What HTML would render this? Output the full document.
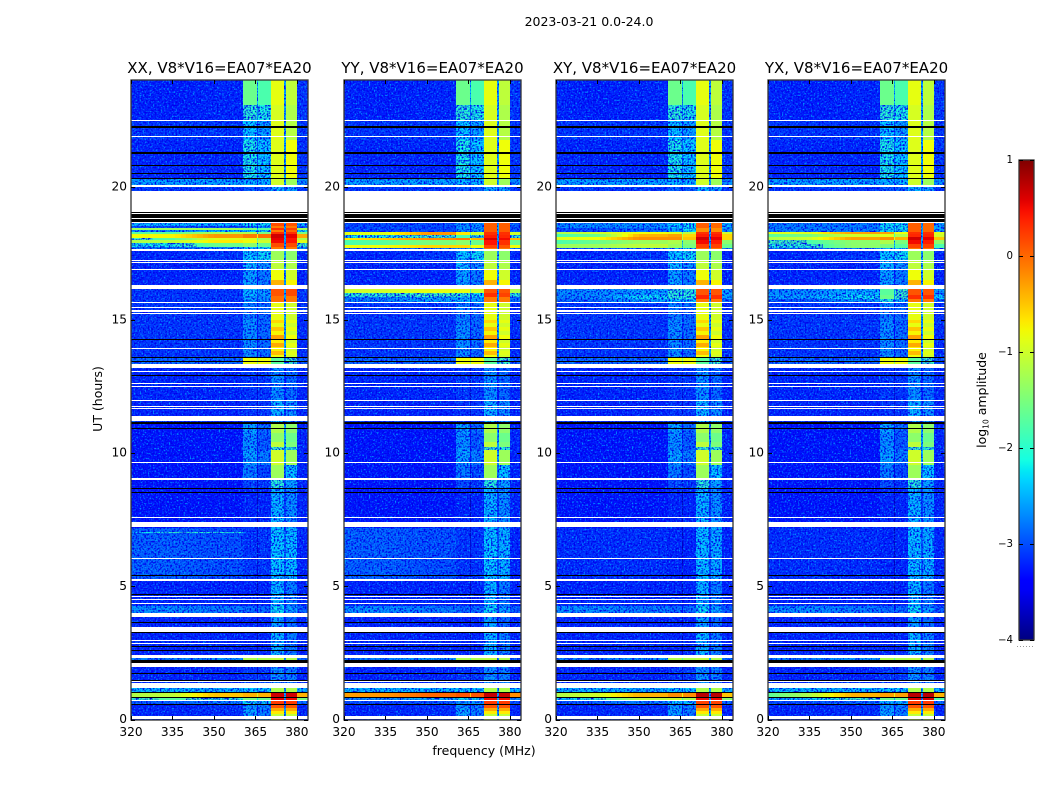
<!DOCTYPE html>
<html>
<head>
<meta charset="utf-8">
<title>2023-03-21 0.0-24.0</title>
<style>
html,body{margin:0;padding:0;background:#fff;}
svg{display:block;}
text{font-family:"DejaVu Sans","Liberation Sans",sans-serif;fill:#000;}
</style>
</head>
<body>
<svg id="chart" xmlns="http://www.w3.org/2000/svg" width="1050" height="800" viewBox="0 0 1050 800">
  <defs>
    <filter id="speckle-light" x="0" y="0" width="100%" height="100%" color-interpolation-filters="sRGB">
      <feTurbulence type="fractalNoise" baseFrequency="0.62" numOctaves="1" seed="4"/>
      <feColorMatrix type="matrix" values="0 0 0 0 0  0 0 0 0 0.6  0 0 0 0 1  4 0 0 0 -2.0"/>
    </filter>
    <filter id="speckle-dark" x="0" y="0" width="100%" height="100%" color-interpolation-filters="sRGB">
      <feTurbulence type="fractalNoise" baseFrequency="0.58" numOctaves="1" seed="11"/>
      <feColorMatrix type="matrix" values="0 0 0 0 0  0 0 0 0 0  0 0 0 0 0.92  0 4 0 0 -1.8"/>
    </filter>
    <linearGradient id="jet-gradient" x1="0" y1="1" x2="0" y2="0"></linearGradient>
  </defs>
  <text x="589" y="26" font-size="12.5" text-anchor="middle">2023-03-21 0.0-24.0</text>
  <text transform="translate(102,399) rotate(-90)" font-size="12.5" text-anchor="middle">UT (hours)</text>
  <text x="484" y="755" font-size="12.5" text-anchor="middle">frequency (MHz)</text>
  <text transform="translate(986,400) rotate(-90)" font-size="12.5" text-anchor="middle">log<tspan font-size="7.5" dy="2.5">10</tspan><tspan dy="-2.5"> amplitude</tspan></text>
</svg>
<script>
const panelTitles = ['XX, V8*V16=EA07*EA20', 'YY, V8*V16=EA07*EA20', 'XY, V8*V16=EA07*EA20', 'YX, V8*V16=EA07*EA20'];
const freqTicks = [320, 335, 350, 365, 380];
const utTicks = [0, 5, 10, 15, 20];
const colorbarTicks = [1, 0, -1, -2, -3, -4];

const freqDomain = [320, 384];
const colorDomain = [-4, 1];
const rfiBandA = [360.6, 365.4];
const rfiBandB = [366, 370.7];
const rfiBandC = [370.7, 375.4];
const rfiBandD = [375.9, 380.2];

// Flagged time ranges, UT hours [low, high]
const flaggedWhite = [
 [22.46,22.51],[21.86,21.91],[20.01,20.07],[19.04,19.83],[19.0,19.03],[18.78,18.82],[18.64,18.68],
 [17.65,17.68],[17.59,17.62],[17.22,17.25],[17.14,17.18],[16.89,16.92],[16.18,16.32],[15.63,15.67],
 [15.44,15.48],[15.32,15.38],[15.25,15.28],[13.92,13.95],[13.20,13.36],[13.04,13.07],[12.60,12.64],
 [12.50,12.54],[11.96,12.00],[11.75,11.79],[11.66,11.70],[11.21,11.41],[9.63,9.67],[9.01,9.05],
 [7.57,7.62],[7.23,7.42],[6.06,6.08],[5.21,5.28],[4.60,4.64],[4.52,4.54],[4.35,4.37],[3.85,4.00],
 [3.64,3.66],[3.29,3.47],[2.96,2.98],[2.85,2.87],[2.31,2.43],[1.97,2.12],[1.43,1.46],[1.18,1.37],
 [0.70,0.72],[0.02,0.13]
];
const flaggedBlack = [
 [22.23,22.29],[21.25,21.31],[20.78,20.81],[20.47,20.52],[20.28,20.33],[19.01,19.04],[18.82,18.97],
 [18.68,18.78],[14.26,14.29],[13.57,13.6],[13.46,13.48],[12.89,12.92],[11.11,11.17],[10.92,10.95],
 [8.69,8.71],[8.52,8.54],[5.40,5.43],[4.71,4.73],[3.66,3.68],[3.24,3.27],[2.73,2.76],[2.59,2.61],
 [2.12,2.23],[1.72,1.75],[1.46,1.48],[1.02,1.05],[0.84,0.86],[0.56,0.58]
];

// log10 amplitude bands: [utLow, utHigh, v320, v335, v350, vA, vB, vC, vD, vEnd]
const sharedBands = [
 [23.07,24,-3.2,-3.25,-3.2,-1.6,-1.8,-0.85,-1.1,-3.1],
 [22.5,23.07,-3.2,-3.25,-3.2,-2.0,-2.1,-0.95,-1.2,-3.1],
 [21.76,22.5,-3.1,-3.1,-3.1,-2.3,-2.5,-0.9,-1.15,-3.1],
 [20.28,21.76,-3.2,-3.2,-3.2,-2.1,-2.3,-0.9,-0.8,-3.1],
 [20.03,20.28,-2.5,-2.5,-2.5,-2.4,-2.4,-1.0,-1.3,-2.6],
 [19.83,20.03,-3.1,-3.1,-3.1,-2.9,-2.9,-2.4,-2.5,-3.1],
 [17.25,17.6,-3.2,-3.2,-3.1,-2.3,-2.2,-1.3,-1.4,-3.2],
 [16.9,17.25,-3.2,-3.2,-3.2,-2.4,-2.6,-1.1,-1.2,-3.2],
 [16.5,16.9,-3.2,-3.2,-3.2,-2.5,-2.7,-0.8,-1.0,-3.2],
 [16.18,16.5,-3.2,-3.2,-3.2,-2.5,-2.7,-0.4,-0.75,-3.2],
 [15.0,15.65,-3.1,-3.1,-3.1,-2.7,-2.8,-0.85,-1.0,-3.15],
 [14.89,15.0,-3.1,-3.1,-3.1,-2.6,-2.8,-0.6,-0.85,-3.15],
 [14.74,14.89,-3.1,-3.1,-3.1,-2.6,-2.8,-0.85,-1.0,-3.15],
 [14.6,14.74,-3.1,-3.1,-3.1,-2.6,-2.8,-0.5,-0.85,-3.15],
 [14.45,14.6,-3.1,-3.1,-3.1,-2.6,-2.8,-0.75,-1.0,-3.15],
 [14.3,14.45,-3.1,-3.1,-3.1,-2.6,-2.8,-0.3,-0.8,-3.15],
 [14.15,14.3,-3.1,-3.1,-3.1,-2.6,-2.8,-0.7,-1.0,-3.15],
 [14.0,14.15,-3.1,-3.1,-3.1,-2.6,-2.8,-0.35,-0.85,-3.15],
 [13.85,14.0,-3.1,-3.1,-3.1,-2.6,-2.8,-0.75,-1.0,-3.15],
 [13.7,13.85,-3.1,-3.1,-3.1,-2.6,-2.8,-0.45,-0.9,-3.15],
 [13.57,13.7,-3.1,-3.1,-3.1,-2.6,-2.8,-0.8,-1.0,-3.15],
 [13.36,13.57,-2.8,-2.8,-2.8,-0.8,-0.8,-1.7,-1.9,-2.9],
 [12.0,13.36,-3.2,-3.2,-3.2,-3.1,-3.1,-2.6,-2.8,-3.2],
 [11.13,12.0,-3.2,-3.2,-3.2,-3.1,-3.1,-2.4,-2.6,-3.2],
 [10.76,11.13,-3.3,-3.3,-3.3,-2.5,-2.8,-1.2,-1.4,-3.2],
 [10.42,10.76,-3.3,-3.3,-3.3,-2.6,-2.9,-1.4,-1.6,-3.2],
 [10.23,10.42,-3.3,-3.3,-3.3,-2.6,-2.9,-1.1,-1.5,-3.2],
 [10.12,10.23,-3.3,-3.3,-3.3,-2.6,-2.9,-1.9,-2.0,-3.2],
 [9.56,10.12,-3.3,-3.3,-3.3,-2.5,-2.7,-1.0,-1.3,-3.2],
 [9.07,9.56,-3.3,-3.3,-3.3,-2.7,-3.0,-1.3,-2.3,-3.2],
 [8.69,9.07,-3.3,-3.3,-3.3,-3.0,-3.1,-2.0,-2.5,-3.2],
 [7.2,8.69,-3.3,-3.3,-3.3,-3.2,-3.2,-2.4,-2.6,-3.2],
 [4.25,5.28,-3.2,-3.2,-3.2,-3.2,-3.2,-2.4,-2.7,-3.2],
 [4.0,4.25,-2.6,-2.6,-2.7,-2.8,-2.8,-2.2,-2.5,-2.9],
 [3.47,4.0,-3.2,-3.2,-3.2,-3.2,-3.2,-2.5,-2.8,-3.2],
 [2.31,3.47,-3.2,-3.2,-3.2,-3.2,-3.2,-2.4,-2.7,-3.2],
 [2.23,2.31,-2.7,-2.7,-2.6,-1.2,-1.2,-1.1,-1.2,-2.8],
 [1.97,2.23,-3.2,-3.2,-3.2,-3.1,-3.1,-2.5,-2.6,-3.2],
 [1.18,1.97,-3.2,-3.2,-3.2,-3.1,-3.1,-2.6,-2.7,-3.2],
 [1.05,1.18,-2.4,-2.4,-2.4,-2.3,-2.3,-1.2,-1.2,-2.4],
 [0.45,0.58,-3.2,-3.2,-3.15,-2.6,-2.7,0.1,0.1,-3.2],
 [0.33,0.45,-3.2,-3.2,-3.15,-2.5,-2.7,-0.35,-0.35,-3.2],
 [0.22,0.33,-3.2,-3.2,-3.15,-2.5,-2.7,-0.7,-0.7,-3.2],
 [0,0.22,-3.2,-3.2,-3.15,-2.5,-2.7,-1.1,-1.1,-3.2]
];
const bandsXX = [
 [18.53,18.64,-2.4,-2.4,-2.4,-2.2,-2.2,0.15,0.1,-2.4],
 [18.45,18.53,-3,-3,-3,-2.8,-2.6,-0.1,-0.1,-2.9],
 [18.38,18.45,-1.3,-1.3,-1.3,-1.5,-1.7,0.3,0.2,-1.3],
 [18.31,18.38,-2.6,-2.6,-2.4,-2.3,-2.2,-0.1,0,-2.2],
 [18.23,18.31,-1.7,-1.7,-1.2,-1.2,-1.5,0.3,0.3,-1.5],
 [18.08,18.23,-0.8,-0.75,-0.25,-0.1,-0.05,0.65,0.55,-0.35],
 [18.0,18.08,-1.9,-1.7,-0.9,-0.9,-1.2,0.55,0.45,-1.2],
 [17.89,18.0,-1.2,-1.1,-0.7,-0.8,-1.0,0.5,0.45,-0.9],
 [17.74,17.89,-2.2,-2.1,-1.6,-1.4,-1.6,0.15,0.15,-1.9],
 [17.6,17.74,-2.8,-2.8,-2.6,-2.3,-2.2,-0.1,-0.1,-2.7],
 [15.9,16.18,-3.1,-3.1,-3.1,-2.4,-2.5,0.1,0.15,-3.1],
 [15.65,15.9,-3.1,-3.1,-3.1,-2.5,-2.6,-0.05,-0.1,-3.1],
 [7.04,7.2,-2.85,-2.85,-2.95,-3.1,-3.1,-2.3,-2.4,-3.2],
 [7.0,7.04,-2.3,-1.9,-2.0,-3.0,-3.1,-2.2,-2.4,-3.2],
 [5.28,7.0,-2.85,-2.85,-2.95,-3.1,-3.1,-2.3,-2.35,-3.2],
 [0.84,1.05,-1.2,-1.1,-0.5,-0.4,-0.4,0.65,0.65,-0.4],
 [0.7,0.84,-2.0,-1.7,-2,-1.5,-1.6,0.55,0.5,-1.5],
 [0.58,0.7,-2.9,-2.9,-2.7,-2.2,-2.2,0.25,0.25,-2.8]
];
const bandsYY = [
 [18.31,18.64,-3,-3,-3,-2.6,-2.6,0.05,0.05,-2.9],
 [18.19,18.31,-0.9,-0.9,-0.25,-0.7,-1,0.3,0.3,-1.0],
 [18.08,18.19,-2.2,-2.1,-1.9,-1.8,-2,0.4,0.35,-2.0],
 [18.0,18.08,-0.7,-0.5,-0.2,-0.1,-0.4,0.6,0.5,-0.4],
 [17.82,18.0,-1.8,-1.7,-1.5,-1.4,-1.6,0.45,0.3,-1.6],
 [17.7,17.82,-0.8,-0.8,-0.6,-0.6,-0.8,0.2,0.1,-0.8],
 [17.6,17.7,-2.9,-2.9,-2.8,-2.5,-2.4,-0.1,-0.1,-2.8],
 [16.0,16.18,-1.0,-1.0,-0.85,-0.85,-1.0,0.1,0.1,-1.2],
 [15.85,16.0,-2.0,-2,-1.9,-2,-2.2,0.3,0.2,-2],
 [15.65,15.85,-2.7,-2.7,-2.5,-2.4,-2.5,-0.1,-0.1,-2.8],
 [5.28,7.2,-2.85,-2.85,-2.95,-3.1,-3.1,-2.3,-2.4,-3.2],
 [0.84,1.05,-0.3,-0.25,0,0.1,0.1,0.7,0.7,-0.2],
 [0.7,0.84,-2.6,-2.6,-2.4,-2.2,-2.2,0.5,0.5,-2.6],
 [0.58,0.7,-3,-3,-2.9,-2.6,-2.6,0.25,0.25,-3]
];
const bandsXY = [
 [18.45,18.64,-2.6,-2.6,-2.6,-2.3,-2.2,0.05,0,-2.4],
 [18.31,18.45,-3,-3,-2.8,-2.5,-2.2,-0.2,-0.2,-2.6],
 [18.25,18.31,-1.2,-1.0,-0.8,-0.9,-1.1,0.3,0.3,-1],
 [18.13,18.25,-1.8,-1.6,-0.4,-0.3,-0.6,0.4,0.4,-0.6],
 [18.0,18.13,-0.9,-0.8,-0.2,-0.2,-0.5,0.65,0.55,-0.6],
 [17.85,18.0,-1.8,-1.6,-1.3,-1.2,-1.4,0.5,0.4,-1.4],
 [17.72,17.85,-1.3,-1.3,-1.1,-1.3,-1.5,0.2,0.2,-1.6],
 [17.6,17.72,-2.9,-2.9,-2.7,-2.4,-2.3,-0.1,-0.1,-2.7],
 [15.95,16.18,-2.6,-2.6,-2.5,-2.0,-2.0,0.1,0.1,-2.5],
 [15.8,15.95,-2.7,-2.6,-2.2,-2,-2,0.35,0.3,-2.5],
 [15.65,15.8,-2.8,-2.8,-2.5,-2.3,-2.3,-0.1,-0.1,-2.8],
 [5.28,7.2,-3.15,-3.15,-3.15,-3.2,-3.2,-2.35,-2.45,-3.2],
 [0.84,1.05,-1.2,-1,-0.4,-0.2,-0.2,0.75,0.75,-0.5],
 [0.7,0.84,-2.4,-2,-1.1,-1,-1.2,0.5,0.5,-1.4],
 [0.58,0.7,-2.9,-2.9,-2.7,-2.3,-2.3,0.2,0.2,-2.8]
];
const bandsYX = [
 [18.31,18.64,-2.7,-2.7,-2.7,-2.2,-2.2,0.05,0,-2.5],
 [18.23,18.31,-0.9,-0.9,-0.3,-0.3,-0.8,0.3,0.3,-0.9],
 [18.12,18.23,-1.7,-1.5,-1.0,-0.9,-1.2,0.35,0.35,-1.0],
 [18.0,18.12,-1.2,-1.0,-0.3,-0.2,-0.4,0.65,0.55,-0.5],
 [17.85,18.0,-1.9,-1.8,-1.4,-1.2,-1.5,0.5,0.4,-1.4],
 [17.72,17.85,-2.1,-2,-1.4,-1.5,-1.7,0.2,0.2,-1.8],
 [17.6,17.72,-2.9,-2.9,-2.7,-2.4,-2.3,-0.1,-0.1,-2.7],
 [15.95,16.18,-2.6,-2.6,-2.4,-1.7,-1.9,0.1,0.1,-2.5],
 [15.8,15.95,-2.5,-2.5,-2.2,-1.6,-1.9,0.3,0.3,-2.3],
 [15.65,15.8,-2.9,-2.9,-2.6,-2.1,-2.4,-0.1,-0.1,-2.8],
 [5.28,7.2,-3.15,-3.15,-3.15,-3.2,-3.2,-2.35,-2.45,-3.2],
 [0.84,1.05,-1.7,-1.2,-0.4,-0.3,-0.3,0.75,0.75,-0.4],
 [0.7,0.84,-2.5,-2.3,-1.9,-1.6,-1.6,0.6,0.6,-1.8],
 [0.58,0.7,-3,-3,-2.8,-2.4,-2.4,0.25,0.25,-2.8]
];
const panelBands = [bandsXX, bandsYY, bandsXY, bandsYX];

const SVG_NS = 'http://www.w3.org/2000/svg';
const svg = document.getElementById('chart');
const PANEL_LEFT = [131, 344, 556, 768];
const PANEL_W = 177, PANEL_TOP = 80, PANEL_BOTTOM = 720;
const CB_X = 1019, CB_W = 15, CB_TOP = 160, CB_H = 480;

function lerp(x, x0, y0, x1, y1){ return y0 + (y1 - y0) * (x - x0) / (x1 - x0); }
function channel(t, pts){
  if (t <= pts[0][0]) return pts[0][1];
  for (let i = 1; i < pts.length; i++) if (t <= pts[i][0]) return lerp(t, pts[i-1][0], pts[i-1][1], pts[i][0], pts[i][1]);
  return pts[pts.length-1][1];
}
function jet(v){
  const t = Math.max(0, Math.min(1, (v - colorDomain[0]) / (colorDomain[1] - colorDomain[0])));
  const r = channel(t, [[0.35,0],[0.66,1],[0.89,1],[1,0.5]]);
  const g = channel(t, [[0.125,0],[0.375,1],[0.64,1],[0.91,0]]);
  const b = channel(t, [[0,0.5],[0.11,1],[0.34,1],[0.65,0]]);
  return 'rgb(' + Math.round(r*255) + ',' + Math.round(g*255) + ',' + Math.round(b*255) + ')';
}
function xOf(p, f){ return PANEL_LEFT[p] + (f - freqDomain[0]) * PANEL_W / (freqDomain[1] - freqDomain[0]); }
function yOf(u){ return 719.5 - u * 26.63; }
function cbY(v){ return CB_TOP + (colorDomain[1] - v) * CB_H / (colorDomain[1] - colorDomain[0]); }

function shape(tag, parent, attrs){
  const el = document.createElementNS(SVG_NS, tag);
  for (const k in attrs) el.setAttribute(k, attrs[k]);
  parent.appendChild(el);
  return el;
}

function addCell(groups, p, f0, f1, y0, y1, v){
  const x0 = Math.round(xOf(p, f0)), x1 = Math.round(xOf(p, f1));
  if (x1 <= x0 || y1 <= y0) return;
  const target = v < -1.8 ? groups.low : groups.high;
  const cell = shape('rect', target, {x: x0, y: y0, width: x1 - x0, height: y1 - y0, fill: jet(v)});
  
  
}

function drawBand(groups, p, band){
  const [u0, u1, v320, v335, v350, vA, vB, vC, vD, vEnd] = band;
  const y0 = Math.round(yOf(u1)), y1 = Math.round(yOf(u0));
  if (v320 === v335 && v335 === v350) {
    addCell(groups, p, 320, rfiBandA[0], y0, y1, v320);
  } else {
    for (let f = 320; f < 350; f += 2) {
      const fm = f + 1;
      const v = fm < 335 ? lerp(fm, 320, v320, 335, v335) : lerp(fm, 335, v335, 350, v350);
      addCell(groups, p, f, f + 2, y0, y1, v);
    }
    addCell(groups, p, 350, rfiBandA[0], y0, y1, v350);
  }
  addCell(groups, p, rfiBandA[0], rfiBandA[1], y0, y1, vA);
  addCell(groups, p, rfiBandA[1], rfiBandB[0], y0, y1, Math.min(vA, vB) - 0.6);
  addCell(groups, p, rfiBandB[0], rfiBandB[1], y0, y1, vB);
  addCell(groups, p, rfiBandC[0], rfiBandC[1], y0, y1, vC);
  addCell(groups, p, rfiBandC[1], rfiBandD[0], y0, y1, Math.min(-2.5, Math.min(vC, vD) - 0.5));
  addCell(groups, p, rfiBandD[0], rfiBandD[1], y0, y1, vD);
  addCell(groups, p, rfiBandD[1], freqDomain[1], y0, y1, vEnd);
}

function drawFlag(parent, p, range, color, name){
  const y0 = Math.round(yOf(range[1]));
  const y1 = Math.max(y0 + 1, Math.round(yOf(range[0])));
  const line = shape('rect', parent, {x: PANEL_LEFT[p], y: y0, width: PANEL_W, height: y1 - y0, fill: color});
  
  
}

panelTitles.forEach(function(title, p){
  const left = PANEL_LEFT[p];
  const panel = shape('g', svg, {'shape-rendering': 'crispEdges'});
  
  

  const low = shape('g', panel, {});
  
  

  const noiseLight = shape('rect', panel, {x: left, y: PANEL_TOP, width: PANEL_W, height: PANEL_BOTTOM - PANEL_TOP, filter: 'url(#speckle-light)'});
  
  

  const noiseDark = shape('rect', panel, {x: left, y: PANEL_TOP, width: PANEL_W, height: PANEL_BOTTOM - PANEL_TOP, filter: 'url(#speckle-dark)'});
  
  

  const high = shape('g', panel, {});
  
  

  const groups = {low: low, high: high};
  sharedBands.forEach(function(b){ drawBand(groups, p, b); });
  panelBands[p].forEach(function(b){ drawBand(groups, p, b); });

  flaggedWhite.forEach(function(r){ drawFlag(panel, p, r, '#ffffff', 'flagged-row-white'); });
  flaggedBlack.forEach(function(r){ drawFlag(panel, p, r, '#000000', 'flagged-row-black'); });

  const frame = shape('rect', svg, {x: left, y: PANEL_TOP, width: PANEL_W, height: PANEL_BOTTOM - PANEL_TOP, fill: 'none', stroke: '#333', 'stroke-width': 1.3});
  
  

  const t = shape('text', svg, {x: left + PANEL_W / 2, y: 73, 'font-size': 15, 'text-anchor': 'middle'});
  t.textContent = title;
  
  

  freqTicks.forEach(function(f){
    const x = Math.round(xOf(p, f)) + 0.5;
    const tb = shape('line', svg, {x1: x, x2: x, y1: PANEL_BOTTOM, y2: PANEL_BOTTOM - 4, stroke: '#000', 'stroke-width': 1});
    
    
    const tt = shape('line', svg, {x1: x, x2: x, y1: PANEL_TOP, y2: PANEL_TOP + 4, stroke: '#000', 'stroke-width': 1});
    
    
    const lab = shape('text', svg, {x: xOf(p, f), y: 736, 'font-size': 12.2, 'text-anchor': 'middle'});
    lab.textContent = String(f);
    
    
  });

  utTicks.forEach(function(u){
    const y = Math.round(yOf(u)) + 0.5;
    const tl = shape('line', svg, {x1: left, x2: left + 4, y1: y, y2: y, stroke: '#000', 'stroke-width': 1});
    
    
    const tr = shape('line', svg, {x1: left + PANEL_W, x2: left + PANEL_W - 4, y1: y, y2: y, stroke: '#000', 'stroke-width': 1});
    
    
    const lab = shape('text', svg, {x: left - 4, y: yOf(u) + 3.5, 'font-size': 12.2, 'text-anchor': 'end'});
    lab.textContent = String(u);
    
    
  });
});

const grad = document.getElementById('jet-gradient');
for (let i = 0; i <= 48; i++) {
  shape('stop', grad, {offset: (i / 48 * 100) + '%', 'stop-color': jet(colorDomain[0] + i / 48 * (colorDomain[1] - colorDomain[0]))});
}
const cbar = shape('rect', svg, {x: CB_X, y: CB_TOP, width: CB_W, height: CB_H, fill: 'url(#jet-gradient)', stroke: '#333', 'stroke-width': 1.3});



colorbarTicks.forEach(function(v){
  const y = Math.round(cbY(v)) + 0.5;
  const tl = shape('line', svg, {x1: CB_X, x2: CB_X + 4, y1: y, y2: y, stroke: '#000', 'stroke-width': 1});
  
  
  const tr = shape('line', svg, {x1: CB_X + CB_W, x2: CB_X + CB_W - 4, y1: y, y2: y, stroke: '#000', 'stroke-width': 1});
  
  
  const lab = shape('text', svg, {x: 1013, y: cbY(v) + 3, 'font-size': 10.2, 'text-anchor': 'end'});
  lab.textContent = (v < 0 ? '\u2212' : '') + Math.abs(v);
  
  
});

const cbDots = shape('line', svg, {x1: 1017, x2: 1035, y1: 646.5, y2: 646.5, stroke: '#999', 'stroke-width': 1, 'stroke-dasharray': '1 2'});


</script>
</body>
</html>
